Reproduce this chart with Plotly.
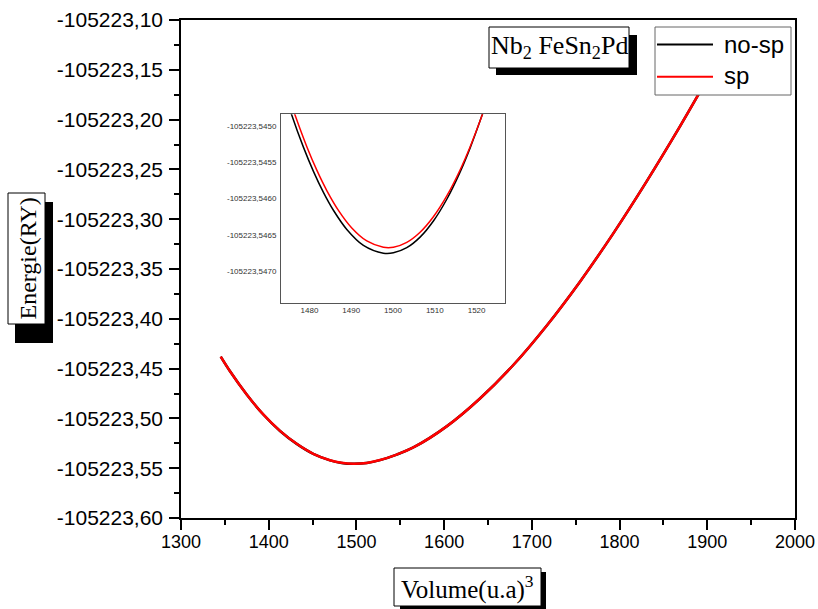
import plotly.graph_objects as go

# ---------------- data ----------------
# main panel curve (both series coincide at this scale)
V_main = [1345.3, 1355.9, 1374.9, 1393.8, 1412.9, 1431.9, 1450.8, 1469.9, 1483.0,
          1497.0, 1511.7, 1526.87, 1545.9, 1564.87, 1602.87, 1640.87, 1678.87, 1716.87,
          1754.87, 1792.87, 1830.87, 1868.87, 1889.8, 1905.0]
E_main_sp = [-105223.4380, -105223.4527, -105223.4760, -105223.4960, -105223.5125,
             -105223.5255, -105223.5355, -105223.5420, -105223.5446, -105223.5455,
             -105223.5447, -105223.5418, -105223.5363, -105223.5292, -105223.5080,
             -105223.4800, -105223.4464, -105223.4069, -105223.3627, -105223.3142,
             -105223.2620, -105223.2068, -105223.1750, -105223.1514]
E_main_nosp = [-105223.4380, -105223.4527, -105223.4760, -105223.4961, -105223.5126,
               -105223.5256, -105223.5356, -105223.5421, -105223.5447, -105223.5456,
               -105223.5448, -105223.5419, -105223.5363, -105223.5292, -105223.5080,
               -105223.4800, -105223.4464, -105223.4069, -105223.3627, -105223.3142,
               -105223.2620, -105223.2068, -105223.1750, -105223.1514]

# inset (zoom around the minimum)
V_inset_nosp = [1474.8, 1475.79, 1478.56, 1480.96, 1483.35, 1485.74, 1488.95, 1492.92,
                1497.70, 1500.10, 1503.30, 1506.48, 1509.67, 1512.87, 1516.05, 1518.44,
                1520.84, 1522.0]
E_inset_nosp = [-105223.544670, -105223.544853, -105223.545291, -105223.545624,
                -105223.545913, -105223.546159, -105223.546423, -105223.546642,
                -105223.546749, -105223.546744, -105223.546674, -105223.546529,
                -105223.546307, -105223.546008, -105223.545635, -105223.545305,
                -105223.544930, -105223.544734]
V_inset_sp = [1475.5, 1476.58, 1479.38, 1481.77, 1484.16, 1486.94, 1490.14, 1493.73,
              1497.70, 1500.10, 1503.30, 1506.48, 1509.67, 1512.87, 1516.05, 1518.44,
              1520.84, 1522.0]
E_inset_sp = [-105223.544670, -105223.544853, -105223.545285, -105223.545608,
              -105223.545888, -105223.546160, -105223.546402, -105223.546581,
              -105223.546667, -105223.546667, -105223.546600, -105223.546461,
              -105223.546248, -105223.545962, -105223.545605, -105223.545289,
              -105223.544930, -105223.544740]

series_names = ["no-sp", "sp"]

y_ticks = [-105223.10, -105223.15, -105223.20, -105223.25, -105223.30, -105223.35,
           -105223.40, -105223.45, -105223.50, -105223.55, -105223.60]
y_ticktext = ["-105223,10", "-105223,15", "-105223,20", "-105223,25", "-105223,30",
              "-105223,35", "-105223,40", "-105223,45", "-105223,50", "-105223,55",
              "-105223,60"]
y_minor = [-105223.125, -105223.175, -105223.225, -105223.275, -105223.325,
           -105223.375, -105223.425, -105223.475, -105223.525, -105223.575]
x_ticks = [1300, 1400, 1500, 1600, 1700, 1800, 1900, 2000]
x_minor = [1350, 1450, 1550, 1650, 1750, 1850, 1950]

inset_x_ticks = [1480, 1490, 1500, 1510, 1520]
inset_y_ticks = [-105223.5450, -105223.5455, -105223.5460, -105223.5465, -105223.5470]
inset_y_ticktext = ["-105223,5450", "-105223,5455", "-105223,5460", "-105223,5465",
                    "-105223,5470"]

# ---------------- layout helpers (pixel -> paper) ----------------
W, H = 818, 609
L, R, T, B = 181, 795, 20, 518


def px(x):
    return (x - L) / (R - L)


def py(y):
    return (B - y) / (B - T)


fig = go.Figure()

fig.add_trace(go.Scatter(x=V_main, y=E_main_nosp, mode="lines", name=series_names[0],
                         line=dict(color="black", width=2.5, shape="spline"),
                         showlegend=False, xaxis="x", yaxis="y"))
fig.add_trace(go.Scatter(x=V_main, y=E_main_sp, mode="lines", name=series_names[1],
                         line=dict(color="#ff0000", width=2.5, shape="spline"),
                         showlegend=False, xaxis="x", yaxis="y"))
fig.add_trace(go.Scatter(x=V_inset_nosp, y=E_inset_nosp, mode="lines",
                         name=series_names[0],
                         line=dict(color="black", width=1.5, shape="spline"),
                         showlegend=False, xaxis="x2", yaxis="y2"))
fig.add_trace(go.Scatter(x=V_inset_sp, y=E_inset_sp, mode="lines",
                         name=series_names[1],
                         line=dict(color="#ff0000", width=1.5, shape="spline"),
                         showlegend=False, xaxis="x2", yaxis="y2"))

inset_l, inset_r, inset_t, inset_b = 281, 505, 114.3, 302.7

fig.update_layout(
    width=W, height=H,
    margin=dict(l=L, r=W - R, t=T, b=H - B, autoexpand=False),
    paper_bgcolor="white", plot_bgcolor="white",
    showlegend=False,
    xaxis=dict(range=[1300, 2000], tickvals=x_ticks, showgrid=False, zeroline=False,
               automargin=False,
               showline=True, linecolor="black", linewidth=1.5, mirror=True,
               ticks="outside", ticklen=10, tickwidth=1.5, tickcolor="black",
               ticklabelstandoff=-3,
               tickfont=dict(family="Liberation Sans", size=18, color="black"),
               minor=dict(tickvals=x_minor, ticks="outside", ticklen=5,
                          tickwidth=1.5, tickcolor="black")),
    yaxis=dict(range=[-105223.60, -105223.10], tickvals=y_ticks, ticktext=y_ticktext,
               showgrid=False, zeroline=False, automargin=False,
               showline=True, linecolor="black", linewidth=1.5, mirror=True,
               ticks="outside", ticklen=10, tickwidth=1.5, tickcolor="black",
               ticklabelstandoff=2,
               tickfont=dict(family="Liberation Sans", size=21, color="black"),
               minor=dict(tickvals=y_minor, ticks="outside", ticklen=5,
                          tickwidth=1.5, tickcolor="black")),
    xaxis2=dict(domain=[px(inset_l), px(inset_r)], anchor="y2", automargin=False,
                range=[1473.2, 1526.8], tickvals=inset_x_ticks,
                showgrid=False, zeroline=False, showline=True, linecolor="#555",
                linewidth=1, mirror=True, ticks="", ticklabelstandoff=0,
                tickfont=dict(family="Liberation Sans", size=8, color="#333")),
    yaxis2=dict(domain=[py(inset_b), py(inset_t)], anchor="x2", automargin=False,
                range=[-105223.54743, -105223.54484], tickvals=inset_y_ticks,
                ticktext=inset_y_ticktext,
                showgrid=False, zeroline=False, showline=True, linecolor="#555",
                linewidth=1, mirror=True, ticks="", ticklabelstandoff=2,
                tickfont=dict(family="Liberation Sans", size=8, color="#333")),
)


def rect(x0, y0, x1, y1, fill, line_color=None, lw=1):
    fig.add_shape(type="rect", xref="paper", yref="paper",
                  x0=px(x0), x1=px(x1), y0=py(y1), y1=py(y0),
                  fillcolor=fill, layer="above",
                  line=dict(color=line_color or fill, width=lw if line_color else 0))


# title box with shadow
rect(496, 35, 637, 75, "black")
rect(489, 27, 629, 68, "white", "black", 1)
# legend box
rect(655, 27, 791, 95, "white", "#666", 1)
fig.add_shape(type="line", xref="paper", yref="paper", x0=px(657), x1=px(713),
              y0=py(44.5), y1=py(44.5), line=dict(color="black", width=2), layer="above")
fig.add_shape(type="line", xref="paper", yref="paper", x0=px(657), x1=px(713),
              y0=py(76.7), y1=py(76.7), line=dict(color="#ff0000", width=2), layer="above")
# y title box with shadow
rect(15, 202, 53, 343, "black")
rect(8, 193, 45, 324, "white", "black", 1)
# x title box with shadow
rect(400, 572, 546, 612, "black")
rect(394, 568, 541, 606, "white", "black", 1)

ann_font_sans = dict(family="Liberation Sans", size=24, color="black")

fig.add_annotation(xref="paper", yref="paper", x=px(559), y=py(47),
                   text="Nb<sub>2</sub> FeSn<sub>2</sub>Pd", showarrow=False,
                   font=dict(family="Liberation Serif", size=26, color="black"),
                   xanchor="center", yanchor="middle")
fig.add_annotation(xref="paper", yref="paper", x=px(722), y=py(45),
                   text=series_names[0], showarrow=False, font=ann_font_sans,
                   xanchor="left", yanchor="middle")
fig.add_annotation(xref="paper", yref="paper", x=px(722), y=py(76),
                   text=series_names[1], showarrow=False, font=ann_font_sans,
                   xanchor="left", yanchor="middle")
fig.add_annotation(xref="paper", yref="paper", x=px(27), y=py(258.5),
                   text="Energie(RY)", showarrow=False,
                   font=dict(family="Liberation Serif", size=24, color="black"),
                   textangle=-90, xanchor="center", yanchor="middle")
fig.add_annotation(xref="paper", yref="paper", x=px(467.5), y=py(587),
                   text="Volume(u.a)<sup>3</sup>", showarrow=False,
                   font=dict(family="Liberation Serif", size=25, color="black"),
                   xanchor="center", yanchor="middle")

fig.write_html("out.html")
